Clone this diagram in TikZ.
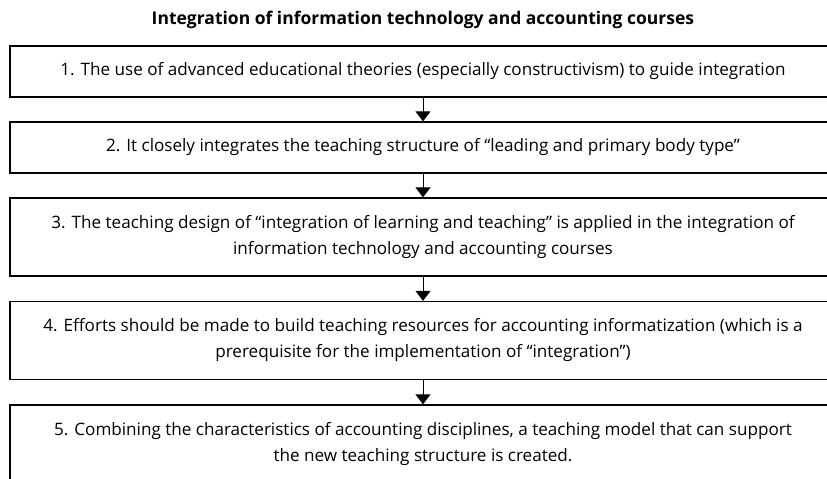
\documentclass[tikz,border=0pt]{standalone}
\usepackage{fontspec}
\setmainfont{Open Sans}
\usetikzlibrary{arrows.meta}
\begin{document}
\begin{tikzpicture}[x=1pt,y=-1pt]
        \clip (0,0) rectangle (827,479);
        \node[font=\bfseries\fontsize{17.5}{20}\selectfont] (T) at (423,20) {Integration of information technology and accounting courses};
        \begin{scope}[every node/.style={draw,line width=1.3pt,minimum width=826pt,inner sep=0pt,align=center,font=\fontsize{17.1}{26}\selectfont}]
          \node[minimum height=51pt] (S1) at (423,71.5) {1. The use of advanced educational theories (especially constructivism) to guide integration};
          \node[minimum height=51pt] (S2) at (423,147.5) {2. It closely integrates the teaching structure of “leading and primary body type”};
          \node[minimum height=78pt] (S3) at (423,237) {3. The teaching design of “integration of learning and teaching” is applied in the integration of\\information technology and accounting courses};
          \node[minimum height=78pt] (S4) at (423,340.5) {4. Efforts should be made to build teaching resources for accounting informatization (which is a\\prerequisite for the implementation of “integration”)};
          \node[minimum height=78pt] (S5) at (423,444) {5. Combining the characteristics of accounting disciplines, a teaching model that can support\\the new teaching structure is created.};
        \end{scope}
        \begin{scope}[every edge/.style={draw,line width=0.9pt,-{Triangle[width=15pt,length=10pt]}}]
          \path (S1) edge (S2);
          \path (S2) edge (S3);
          \path (S3) edge (S4);
          \path (S4) edge (S5);
        \end{scope}
\end{tikzpicture}
\end{document}
